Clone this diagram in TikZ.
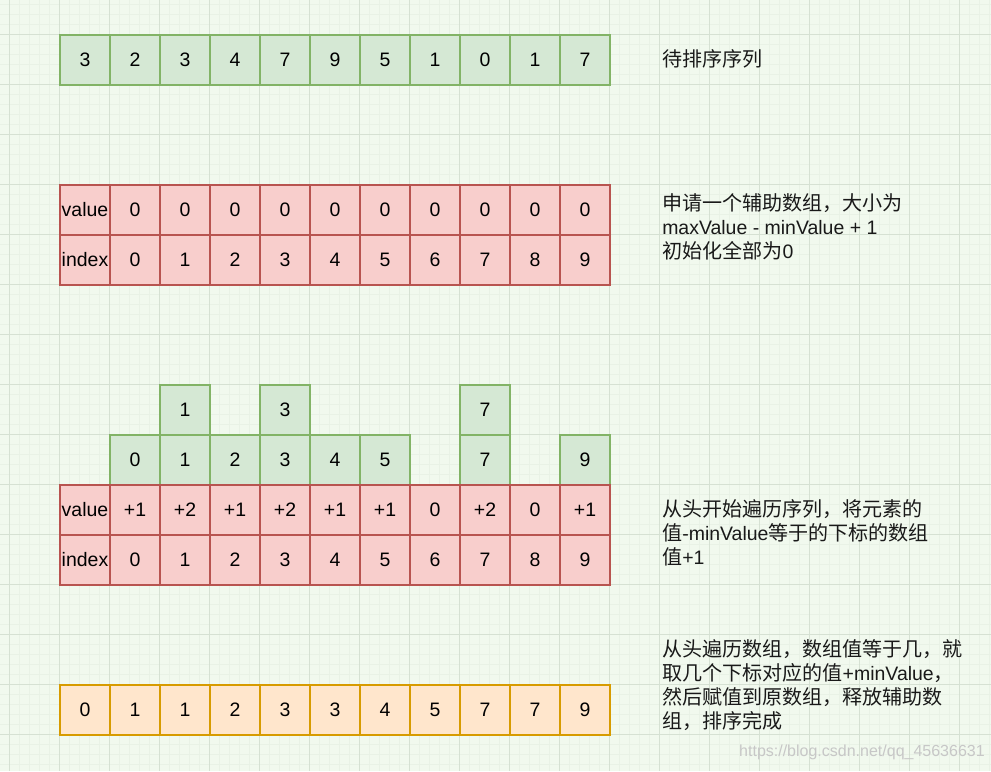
\documentclass[tikz,border=0pt]{standalone}
\usepackage{fontspec}
\setmainfont{Liberation Sans}
\newfontfamily\cjk[Scale=1.03]{Noto Sans CJK SC}
\definecolor{bgc}{RGB}{241,249,238}
\definecolor{minorc}{RGB}{233,242,230}
\definecolor{majorc}{RGB}{214,225,211}
\definecolor{gfill}{HTML}{D5E8D4}
\definecolor{gline}{HTML}{82B366}
\definecolor{rfill}{HTML}{F8CECC}
\definecolor{rline}{HTML}{B85450}
\definecolor{ofill}{HTML}{FFE6CC}
\definecolor{oline}{HTML}{D79B00}
\tikzset{
  cellbox/.style={draw, line width=1.5pt, minimum width=37.5pt, minimum height=37.5pt, inner sep=0pt, anchor=north west, font=\fontsize{14.6}{18}\selectfont},
  gcell/.style={cellbox, fill=gfill, draw=gline},
  rcell/.style={cellbox, fill=rfill, draw=rline},
  ocell/.style={cellbox, fill=ofill, draw=oline},
  note/.style={anchor=west, align=left, inner sep=0pt, font=\fontsize{14.6}{18}\selectfont, text=black!90},
}
\begin{document}
\begin{tikzpicture}[x=0.75pt, y=-0.75pt]
\useasboundingbox (0,0) rectangle (991,771);
\fill[bgc] (0,0) rectangle (991,771);
\foreach \k in {0,...,99} {\draw[minorc, line width=0.5pt] (9+10*\k,0) -- (9+10*\k,771);}
\foreach \k in {0,...,77} {\draw[minorc, line width=0.5pt] (0,4+10*\k) -- (991,4+10*\k);}
\foreach \k in {0,...,19} {\draw[majorc, line width=0.75pt] (9+50*\k,0) -- (9+50*\k,771);}
\foreach \k in {0,...,15} {\draw[majorc, line width=0.75pt] (0,34+50*\k) -- (991,34+50*\k);}

% row 1: input
\foreach \v [count=\i from 0] in {3,2,3,4,7,9,5,1,0,1,7}
  \node[gcell] (a\i) at (59+50*\i,34) {\v};
\node[note] (n1) at (662,59) {\cjk 待排序序列};

% row 2: auxiliary array
\node[rcell] (bv) at (59,184) {value};
\node[rcell] (bi) at (59,234) {index};
\foreach \i in {0,...,9} {
  \node[rcell] (bv\i) at (109+50*\i,184) {0};
  \node[rcell] (bi\i) at (109+50*\i,234) {\i};
}
\node[note] (n2) at (662,227) {{\cjk 申请一个辅助数组，大小为}\\maxValue - minValue + 1\\{\cjk 初始化全部为}0};

% row 3: counting
\foreach \c/\v in {1/1,3/3,7/7}
  \node[gcell] (ct\c) at (109+50*\c,384) {\v};
\foreach \c/\v in {0/0,1/1,2/2,3/3,4/4,5/5,7/7,9/9}
  \node[gcell] (cm\c) at (109+50*\c,434) {\v};
\node[rcell] (cv) at (59,484) {value};
\node[rcell] (ci) at (59,534) {index};
\foreach \v [count=\i from 0] in {+1,+2,+1,+2,+1,+1,0,+2,0,+1} {
  \node[rcell] (cv\i) at (109+50*\i,484) {\v};
  \node[rcell] (ci\i) at (109+50*\i,534) {\i};
}
\node[note] (n3) at (662,533) {{\cjk 从头开始遍历序列，将元素的}\\{\cjk 值}-minValue{\cjk 等于的下标的数组}\\{\cjk 值}+1};

% row 4: output
\foreach \v [count=\i from 0] in {0,1,1,2,3,3,4,5,7,7,9}
  \node[ocell] (d\i) at (59+50*\i,684) {\v};
\node[note] (n4) at (662,685) {{\cjk 从头遍历数组，数组值等于几，就}\\{\cjk 取几个下标对应的值}+minValue{\cjk ，}\\{\cjk 然后赋值到原数组，释放辅助数}\\{\cjk 组，排序完成}};

\node[anchor=east, inner sep=0pt, text=black!22, font=\fontsize{12}{14}\selectfont] (wm) at (985,752) {https://blog.csdn.net/qq\_45636631};
\end{tikzpicture}
\end{document}
